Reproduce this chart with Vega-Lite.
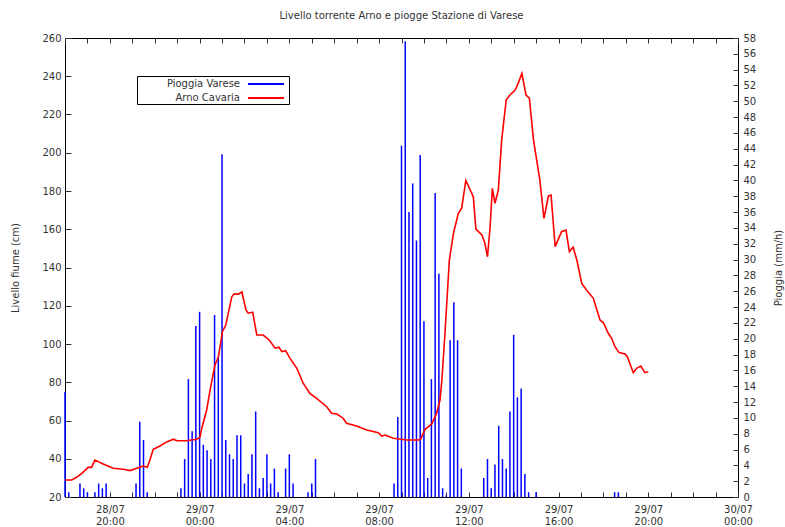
{
  "$schema": "https://vega.github.io/schema/vega-lite/v6.json",
  "width": 673,
  "height": 459,
  "autosize": {"type": "none"},
  "padding": {"left": 65, "top": 38, "right": 47, "bottom": 30},
  "background": "white",
  "title": {"text": "Livello torrente Arno e piogge Stazione di Varese", "font": "DejaVu Sans", "fontSize": 10, "fontWeight": "normal", "color": "#333", "offset": 12},
  "config": {
    "view": {"stroke": "#000", "strokeWidth": 1},
    "axis": {"domain": false, "grid": false, "labelFont": "DejaVu Sans", "labelFontSize": 10, "labelColor": "#333", "titleFont": "DejaVu Sans", "titleFontSize": 10, "titleFontWeight": "normal", "titleColor": "#333", "tickColor": "#333"},
    "legend": {"labelFont": "DejaVu Sans", "labelFontSize": 10, "labelColor": "#333"}
  },
  "datasets": {
    "pioggia": [
      {"t": "2014-07-28T18:00", "mm": 13.3}, {"t": "2014-07-28T18:10", "mm": 0.6}, {"t": "2014-07-28T18:40", "mm": 1.7}, {"t": "2014-07-28T18:50", "mm": 1.1},
      {"t": "2014-07-28T19:00", "mm": 0.6}, {"t": "2014-07-28T19:20", "mm": 0.6}, {"t": "2014-07-28T19:30", "mm": 1.7}, {"t": "2014-07-28T19:40", "mm": 1.1},
      {"t": "2014-07-28T19:50", "mm": 1.7}, {"t": "2014-07-28T21:10", "mm": 1.7}, {"t": "2014-07-28T21:20", "mm": 9.5}, {"t": "2014-07-28T21:30", "mm": 7.2},
      {"t": "2014-07-28T21:40", "mm": 0.6}, {"t": "2014-07-28T23:10", "mm": 1.1}, {"t": "2014-07-28T23:20", "mm": 4.8}, {"t": "2014-07-28T23:30", "mm": 14.9},
      {"t": "2014-07-28T23:40", "mm": 8.3}, {"t": "2014-07-28T23:50", "mm": 21.6}, {"t": "2014-07-29T00:00", "mm": 23.4}, {"t": "2014-07-29T00:10", "mm": 6.6},
      {"t": "2014-07-29T00:20", "mm": 5.9}, {"t": "2014-07-29T00:30", "mm": 4.8}, {"t": "2014-07-29T00:40", "mm": 23.0}, {"t": "2014-07-29T00:50", "mm": 17.7},
      {"t": "2014-07-29T01:00", "mm": 43.3}, {"t": "2014-07-29T01:10", "mm": 7.2}, {"t": "2014-07-29T01:20", "mm": 5.4}, {"t": "2014-07-29T01:30", "mm": 4.8},
      {"t": "2014-07-29T01:40", "mm": 7.8}, {"t": "2014-07-29T01:50", "mm": 7.8}, {"t": "2014-07-29T02:00", "mm": 1.7}, {"t": "2014-07-29T02:10", "mm": 2.9},
      {"t": "2014-07-29T02:20", "mm": 5.4}, {"t": "2014-07-29T02:30", "mm": 10.8}, {"t": "2014-07-29T02:40", "mm": 1.1}, {"t": "2014-07-29T02:50", "mm": 2.4},
      {"t": "2014-07-29T03:00", "mm": 5.4}, {"t": "2014-07-29T03:10", "mm": 1.7}, {"t": "2014-07-29T03:20", "mm": 3.6}, {"t": "2014-07-29T03:30", "mm": 0.6},
      {"t": "2014-07-29T03:50", "mm": 3.6}, {"t": "2014-07-29T04:00", "mm": 5.4}, {"t": "2014-07-29T04:10", "mm": 1.7}, {"t": "2014-07-29T04:50", "mm": 0.6},
      {"t": "2014-07-29T05:00", "mm": 1.7}, {"t": "2014-07-29T05:10", "mm": 4.8}, {"t": "2014-07-29T08:40", "mm": 1.7}, {"t": "2014-07-29T08:50", "mm": 10.1},
      {"t": "2014-07-29T09:00", "mm": 44.4}, {"t": "2014-07-29T09:10", "mm": 57.6}, {"t": "2014-07-29T09:20", "mm": 36.0}, {"t": "2014-07-29T09:30", "mm": 39.6},
      {"t": "2014-07-29T09:40", "mm": 32.4}, {"t": "2014-07-29T09:50", "mm": 43.2}, {"t": "2014-07-29T10:00", "mm": 22.2}, {"t": "2014-07-29T10:10", "mm": 2.4},
      {"t": "2014-07-29T10:20", "mm": 14.9}, {"t": "2014-07-29T10:30", "mm": 38.4}, {"t": "2014-07-29T10:40", "mm": 28.2}, {"t": "2014-07-29T10:50", "mm": 1.1},
      {"t": "2014-07-29T11:00", "mm": 0.2}, {"t": "2014-07-29T11:10", "mm": 19.8}, {"t": "2014-07-29T11:20", "mm": 24.6}, {"t": "2014-07-29T11:30", "mm": 19.8},
      {"t": "2014-07-29T11:40", "mm": 3.6}, {"t": "2014-07-29T12:40", "mm": 2.4}, {"t": "2014-07-29T12:50", "mm": 4.8}, {"t": "2014-07-29T13:00", "mm": 1.1},
      {"t": "2014-07-29T13:10", "mm": 4.1}, {"t": "2014-07-29T13:20", "mm": 9.0}, {"t": "2014-07-29T13:30", "mm": 4.8}, {"t": "2014-07-29T13:40", "mm": 3.6},
      {"t": "2014-07-29T13:50", "mm": 10.8}, {"t": "2014-07-29T14:00", "mm": 20.5}, {"t": "2014-07-29T14:10", "mm": 12.6}, {"t": "2014-07-29T14:20", "mm": 13.7},
      {"t": "2014-07-29T14:30", "mm": 2.9}, {"t": "2014-07-29T14:40", "mm": 0.6}, {"t": "2014-07-29T15:00", "mm": 0.6}, {"t": "2014-07-29T18:30", "mm": 0.6},
      {"t": "2014-07-29T18:40", "mm": 0.6}
    ],
    "livello": [
      {"t": "2014-07-28T18:00", "cm": 28.9}, {"t": "2014-07-28T18:18", "cm": 28.9}, {"t": "2014-07-28T18:31", "cm": 30.3}, {"t": "2014-07-28T18:45", "cm": 32.4},
      {"t": "2014-07-28T19:02", "cm": 35.5}, {"t": "2014-07-28T19:11", "cm": 35.5}, {"t": "2014-07-28T19:20", "cm": 39.3}, {"t": "2014-07-28T19:29", "cm": 38.5},
      {"t": "2014-07-28T19:42", "cm": 37.3}, {"t": "2014-07-28T20:09", "cm": 35.0}, {"t": "2014-07-28T20:36", "cm": 34.5}, {"t": "2014-07-28T20:54", "cm": 33.8},
      {"t": "2014-07-28T21:12", "cm": 35.0}, {"t": "2014-07-28T21:29", "cm": 36.2}, {"t": "2014-07-28T21:40", "cm": 35.5}, {"t": "2014-07-28T21:47", "cm": 39.3},
      {"t": "2014-07-28T21:56", "cm": 44.9}, {"t": "2014-07-28T22:14", "cm": 46.7}, {"t": "2014-07-28T22:32", "cm": 48.8}, {"t": "2014-07-28T22:50", "cm": 50.2},
      {"t": "2014-07-28T22:59", "cm": 49.4}, {"t": "2014-07-28T23:25", "cm": 49.4}, {"t": "2014-07-28T23:52", "cm": 50.2}, {"t": "2014-07-29T00:01", "cm": 51.2},
      {"t": "2014-07-29T00:06", "cm": 56.1}, {"t": "2014-07-29T00:19", "cm": 65.5}, {"t": "2014-07-29T00:28", "cm": 75.9}, {"t": "2014-07-29T00:41", "cm": 89.0},
      {"t": "2014-07-29T00:50", "cm": 93.0}, {"t": "2014-07-29T01:01", "cm": 106.4}, {"t": "2014-07-29T01:10", "cm": 109.9}, {"t": "2014-07-29T01:26", "cm": 124.7},
      {"t": "2014-07-29T01:32", "cm": 126.1}, {"t": "2014-07-29T01:44", "cm": 126.1}, {"t": "2014-07-29T01:53", "cm": 127.3}, {"t": "2014-07-29T02:04", "cm": 117.8},
      {"t": "2014-07-29T02:10", "cm": 116.1}, {"t": "2014-07-29T02:22", "cm": 116.6}, {"t": "2014-07-29T02:33", "cm": 104.7}, {"t": "2014-07-29T02:50", "cm": 104.7},
      {"t": "2014-07-29T03:06", "cm": 102.1}, {"t": "2014-07-29T03:22", "cm": 97.8}, {"t": "2014-07-29T03:32", "cm": 98.3}, {"t": "2014-07-29T03:40", "cm": 96.0},
      {"t": "2014-07-29T03:50", "cm": 96.5}, {"t": "2014-07-29T04:02", "cm": 92.5}, {"t": "2014-07-29T04:20", "cm": 87.3}, {"t": "2014-07-29T04:37", "cm": 79.5},
      {"t": "2014-07-29T04:55", "cm": 74.2}, {"t": "2014-07-29T05:13", "cm": 71.6}, {"t": "2014-07-29T05:40", "cm": 67.2}, {"t": "2014-07-29T05:53", "cm": 63.8},
      {"t": "2014-07-29T06:07", "cm": 63.4}, {"t": "2014-07-29T06:24", "cm": 61.2}, {"t": "2014-07-29T06:33", "cm": 58.5}, {"t": "2014-07-29T07:00", "cm": 57.1},
      {"t": "2014-07-29T07:27", "cm": 55.0}, {"t": "2014-07-29T07:58", "cm": 53.6}, {"t": "2014-07-29T08:07", "cm": 51.9}, {"t": "2014-07-29T08:16", "cm": 52.4},
      {"t": "2014-07-29T08:38", "cm": 50.7}, {"t": "2014-07-29T09:14", "cm": 49.8}, {"t": "2014-07-29T09:45", "cm": 49.8}, {"t": "2014-07-29T09:51", "cm": 50.2},
      {"t": "2014-07-29T10:03", "cm": 55.4}, {"t": "2014-07-29T10:21", "cm": 58.2}, {"t": "2014-07-29T10:34", "cm": 63.8}, {"t": "2014-07-29T10:43", "cm": 70.7},
      {"t": "2014-07-29T10:48", "cm": 81.2}, {"t": "2014-07-29T10:56", "cm": 104.7}, {"t": "2014-07-29T11:08", "cm": 143.9}, {"t": "2014-07-29T11:19", "cm": 157.9},
      {"t": "2014-07-29T11:32", "cm": 168.3}, {"t": "2014-07-29T11:41", "cm": 171.0}, {"t": "2014-07-29T11:52", "cm": 185.5}, {"t": "2014-07-29T12:12", "cm": 177.0},
      {"t": "2014-07-29T12:19", "cm": 160.1}, {"t": "2014-07-29T12:35", "cm": 157.0}, {"t": "2014-07-29T12:43", "cm": 152.7}, {"t": "2014-07-29T12:50", "cm": 145.6},
      {"t": "2014-07-29T12:57", "cm": 161.3}, {"t": "2014-07-29T13:03", "cm": 181.4}, {"t": "2014-07-29T13:10", "cm": 173.6}, {"t": "2014-07-29T13:19", "cm": 180.5},
      {"t": "2014-07-29T13:28", "cm": 206.7}, {"t": "2014-07-29T13:40", "cm": 227.6}, {"t": "2014-07-29T13:50", "cm": 230.2}, {"t": "2014-07-29T14:04", "cm": 232.8},
      {"t": "2014-07-29T14:12", "cm": 236.3}, {"t": "2014-07-29T14:22", "cm": 241.5}, {"t": "2014-07-29T14:33", "cm": 230.2}, {"t": "2014-07-29T14:42", "cm": 228.5},
      {"t": "2014-07-29T14:53", "cm": 206.7}, {"t": "2014-07-29T15:03", "cm": 194.5}, {"t": "2014-07-29T15:10", "cm": 185.8}, {"t": "2014-07-29T15:21", "cm": 165.7},
      {"t": "2014-07-29T15:33", "cm": 177.4}, {"t": "2014-07-29T15:40", "cm": 177.9}, {"t": "2014-07-29T15:51", "cm": 150.9}, {"t": "2014-07-29T16:08", "cm": 158.7},
      {"t": "2014-07-29T16:20", "cm": 159.6}, {"t": "2014-07-29T16:29", "cm": 148.3}, {"t": "2014-07-29T16:39", "cm": 150.6}, {"t": "2014-07-29T16:49", "cm": 143.9},
      {"t": "2014-07-29T17:02", "cm": 131.7}, {"t": "2014-07-29T17:15", "cm": 128.2}, {"t": "2014-07-29T17:33", "cm": 123.9}, {"t": "2014-07-29T17:51", "cm": 112.5},
      {"t": "2014-07-29T18:00", "cm": 111.1}, {"t": "2014-07-29T18:13", "cm": 105.6}, {"t": "2014-07-29T18:22", "cm": 103.0}, {"t": "2014-07-29T18:31", "cm": 98.6},
      {"t": "2014-07-29T18:42", "cm": 95.5}, {"t": "2014-07-29T18:58", "cm": 94.8}, {"t": "2014-07-29T19:04", "cm": 93.4}, {"t": "2014-07-29T19:20", "cm": 85.0},
      {"t": "2014-07-29T19:29", "cm": 87.3}, {"t": "2014-07-29T19:40", "cm": 88.5}, {"t": "2014-07-29T19:51", "cm": 85.0}, {"t": "2014-07-29T20:00", "cm": 85.5}
    ]
  },
  "layer": [
    {
      "data": {"name": "pioggia"},
      "mark": {"type": "rule", "strokeWidth": 1.5},
      "encoding": {
        "x": {"field": "t", "type": "temporal",
          "scale": {"domain": [{"year": 2014, "month": 7, "date": 28, "hours": 18}, {"year": 2014, "month": 7, "date": 30, "hours": 0}]},
          "axis": {"title": null, "tickCount": 30, "tickSize": -5, "labelPadding": 12, "labelFlush": false, "labelOverlap": false,
            "labelExpr": "hours(datum.value) % 4 == 0 ? [timeFormat(datum.value, '%d/%m'), timeFormat(datum.value, '%H:%M')] : ''"}},
        "y": {"field": "mm", "type": "quantitative",
          "scale": {"domain": [0, 58], "nice": false},
          "axis": {"orient": "right", "title": "Pioggia (mm/h)", "titleAngle": -90, "values": [0,2,4,6,8,10,12,14,16,18,20,22,24,26,28,30,32,34,36,38,40,42,44,46,48,50,52,54,56,58], "tickSize": -5, "labelPadding": 10, "titlePadding": 28}},
        "y2": {"datum": 0},
        "color": {"datum": "Pioggia Varese", "type": "nominal",
          "scale": {"domain": ["Pioggia Varese", "Arno Cavaria"], "range": ["#0000ff", "#ff0000"]},
          "legend": {"title": null, "orient": "none", "legendX": 72, "legendY": 38, "symbolType": "M-3,0H3", "symbolSize": 144, "symbolStrokeWidth": 2, "symbolOffset": 121, "labelAlign": "right", "labelOffset": -33, "strokeColor": "#000", "fillColor": "#fff", "padding": 1, "rowPadding": 2}}
      }
    },
    {
      "data": {"name": "livello"},
      "mark": {"type": "line", "strokeWidth": 1.6},
      "encoding": {
        "x": {"field": "t", "type": "temporal",
          "axis": {"orient": "top", "title": null, "tickCount": 30, "tickSize": -5, "labels": false}},
        "y": {"field": "cm", "type": "quantitative",
          "scale": {"domain": [20, 260], "nice": false},
          "axis": {"orient": "left", "title": "Livello fiume (cm)", "values": [20,40,60,80,100,120,140,160,180,200,220,240,260], "tickSize": -6, "labelPadding": 10, "titlePadding": 21}},
        "color": {"datum": "Arno Cavaria", "type": "nominal"}
      }
    }
  ],
  "resolve": {"scale": {"y": "independent"}, "axis": {"x": "independent"}}
}
